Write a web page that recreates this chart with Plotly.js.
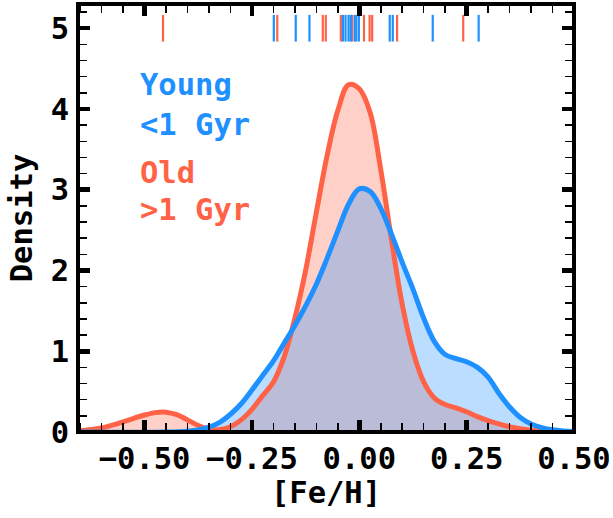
<!DOCTYPE html>
<html>
<head>
<meta charset="utf-8">
<script src="https://cdn.plot.ly/plotly-3.0.1.min.js"></script>
<style>html,body{margin:0;padding:0;background:#fff;}#chart{width:613px;height:518px;}</style>
</head>
<body>
<div id="chart"></div>
<script>
// KDE curve of young stars (<1 Gyr)
var youngX = [-0.655,-0.45,-0.40,-0.375,-0.35,-0.325,-0.30,-0.275,-0.25,-0.225,-0.20,-0.175,-0.15,-0.125,-0.10,-0.075,-0.05,-0.025,0.0,0.025,0.05,0.075,0.10,0.125,0.15,0.175,0.20,0.225,0.25,0.275,0.30,0.325,0.35,0.375,0.40,0.425,0.45,0.475,0.50];
var youngY = [0.0,0.0,0.01,0.025,0.06,0.12,0.22,0.35,0.52,0.70,0.88,1.10,1.32,1.56,1.83,2.15,2.49,2.82,3.01,2.98,2.77,2.45,2.10,1.77,1.41,1.12,0.96,0.91,0.87,0.80,0.68,0.48,0.31,0.18,0.10,0.055,0.027,0.012,0.005];
// KDE curve of old stars (>1 Gyr)
var oldX = [-0.655,-0.625,-0.60,-0.575,-0.55,-0.525,-0.50,-0.475,-0.45,-0.425,-0.40,-0.375,-0.35,-0.325,-0.30,-0.275,-0.25,-0.225,-0.20,-0.175,-0.15,-0.125,-0.10,-0.075,-0.05,-0.025,0.0,0.025,0.05,0.075,0.10,0.125,0.15,0.175,0.20,0.225,0.25,0.275,0.30,0.325,0.35,0.375,0.40,0.425,0.45,0.50];
var oldY = [0.01,0.03,0.05,0.085,0.125,0.17,0.21,0.24,0.245,0.215,0.15,0.08,0.035,0.03,0.065,0.15,0.28,0.45,0.62,0.93,1.41,2.0,2.72,3.42,3.98,4.30,4.25,3.96,3.25,2.38,1.58,1.0,0.62,0.42,0.34,0.30,0.25,0.19,0.14,0.10,0.065,0.04,0.022,0.012,0.006,0.001];
// individual [Fe/H] values (rug)
var youngRug = [-0.199,-0.148,-0.116,-0.038,-0.032,-0.025,-0.020,-0.011,-0.007,-0.001,0.071,0.078,0.171,0.278];
var oldRug = [-0.457,-0.191,-0.085,-0.078,-0.043,-0.017,0.011,0.024,0.030,0.088,0.242];
var xTicks = [-0.5,-0.25,0,0.25,0.5];
var yTicks = [0,1,2,3,4,5];
var rugLevel = 5;
var rugHalf = 0.165;

var RED = '#FF6347', BLUE = '#1E90FF';
var FONT = 'DejaVu Sans Mono';
var FS = 30.5;

function rugTrace(vals, color) {
  var xs = [], ys = [];
  vals.forEach(function (v) { xs.push(v, v, null); ys.push(rugLevel - rugHalf, rugLevel + rugHalf, null); });
  return {x: xs, y: ys, mode: 'lines', line: {color: color, width: 2.2}, hoverinfo: 'skip', showlegend: false};
}
function fillTrace(x, y, fc) {
  return {x: x, y: y, mode: 'lines', fill: 'tozeroy', fillcolor: fc, line: {width: 0, shape: 'spline', smoothing: 1}, showlegend: false};
}
function lineTrace(x, y, c) {
  return {x: x, y: y, mode: 'lines', line: {color: c, width: 5, shape: 'spline', smoothing: 1}, showlegend: false};
}

var data = [
  fillTrace(oldX, oldY, 'rgba(255,99,71,0.3)'),
  fillTrace(youngX, youngY, 'rgba(30,144,255,0.3)'),
  lineTrace(oldX, oldY, RED),
  lineTrace(youngX, youngY, BLUE),
  rugTrace(oldRug, RED),
  rugTrace(youngRug, BLUE)
];

var tickFont = {family: FONT, size: FS, color: '#000', weight: 'bold'};
var layout = {
  width: 613, height: 518,
  margin: {l: 78, r: 39, t: 4, b: 86, pad: 0},
  paper_bgcolor: '#fff', plot_bgcolor: '#fff',
  showlegend: false,
  xaxis: {
    range: [-0.655, 0.5], showgrid: false, zeroline: false, showline: false,
    tickmode: 'array', tickvals: xTicks, tickformat: '.2f',
    ticks: 'inside', ticklen: 12, tickwidth: 4.5, tickcolor: '#000', mirror: 'ticks',
    minor: {ticks: 'inside', dtick: 0.05, tick0: 0, ticklen: 9, tickwidth: 1.5, tickcolor: '#000', showgrid: false},
    tickfont: tickFont, ticklabelstandoff: 5,
    title: {text: '[Fe/H]', font: {family: FONT, size: FS, color: '#000', weight: 'bold'}, standoff: 6}
  },
  yaxis: {
    range: [0, 5.3], showgrid: false, zeroline: false, showline: false,
    tickmode: 'array', tickvals: yTicks,
    ticks: 'inside', ticklen: 12, tickwidth: 4.5, tickcolor: '#000', mirror: 'ticks',
    minor: {ticks: 'inside', dtick: 0.2, tick0: 0, ticklen: 9, tickwidth: 1.5, tickcolor: '#000', showgrid: false},
    tickfont: tickFont, ticklabelstandoff: 8,
    title: {text: 'Density', font: {family: FONT, size: FS, color: '#000', weight: 'bold'}, standoff: 8}
  },
  shapes: [{type: 'rect', xref: 'paper', yref: 'paper', x0: 0, x1: 1, y0: 0, y1: 1, line: {color: '#000', width: 4}, layer: 'above'}],
  annotations: [
    {text: 'Young', x: -0.515, y: 4.3, xref: 'x', yref: 'y', xanchor: 'left', yanchor: 'middle', showarrow: false, font: {family: FONT, size: FS, color: BLUE, weight: 'bold'}},
    {text: '<1 Gyr', x: -0.515, y: 3.81, xref: 'x', yref: 'y', xanchor: 'left', yanchor: 'middle', showarrow: false, font: {family: FONT, size: FS, color: BLUE, weight: 'bold'}},
    {text: 'Old', x: -0.515, y: 3.21, xref: 'x', yref: 'y', xanchor: 'left', yanchor: 'middle', showarrow: false, font: {family: FONT, size: FS, color: RED, weight: 'bold'}},
    {text: '>1 Gyr', x: -0.515, y: 2.75, xref: 'x', yref: 'y', xanchor: 'left', yanchor: 'middle', showarrow: false, font: {family: FONT, size: FS, color: RED, weight: 'bold'}}
  ]
};

Plotly.newPlot('chart', data, layout, {displayModeBar: false, staticPlot: true});
</script>
</body>
</html>
